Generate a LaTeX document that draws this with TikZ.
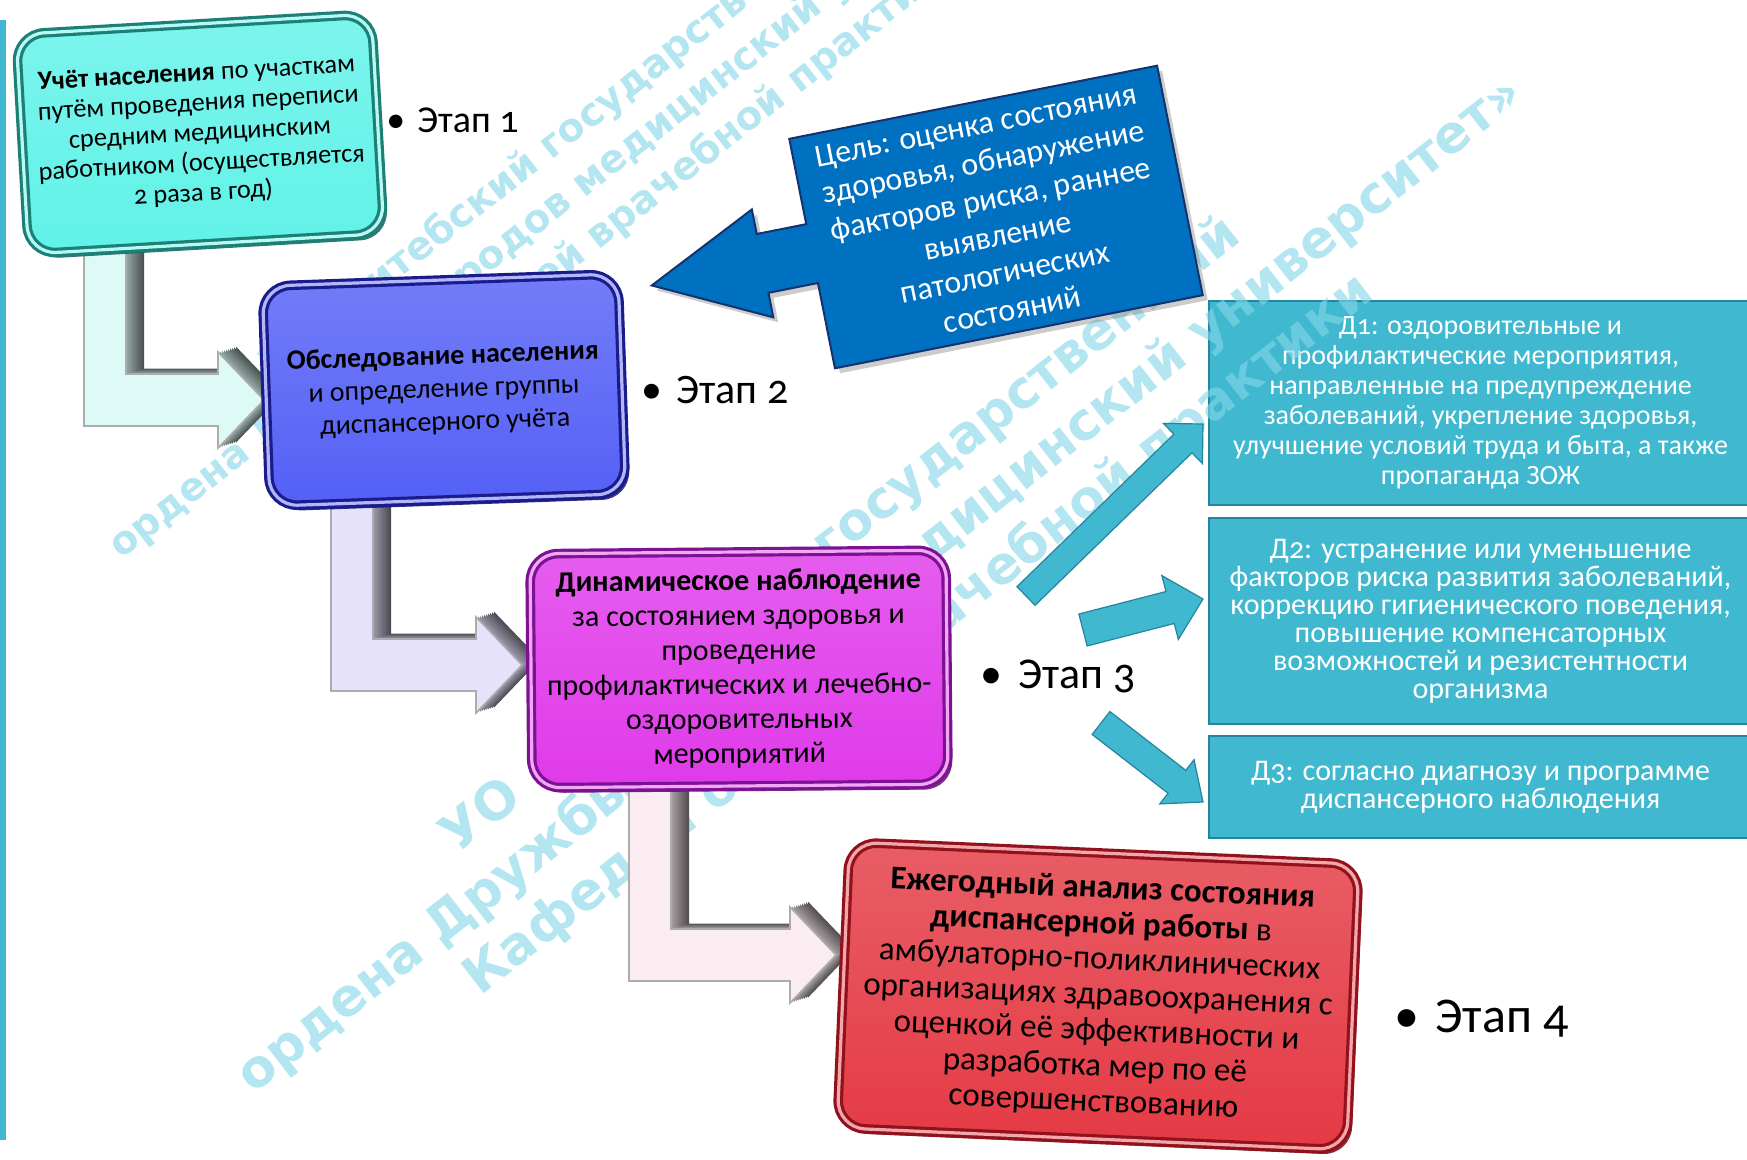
\documentclass[tikz,border=0pt]{standalone}
\usepackage{fontspec}
\setmainfont{Carlito}[Numbers=OldStyle]
\newfontfamily\stampfont{DejaVu Sans}
\usepackage{tikz}
\usetikzlibrary{calc, shadows, positioning}

\definecolor{barcyan}{RGB}{64,184,210}
\definecolor{dfill}{RGB}{64,184,208}
\definecolor{dline}{RGB}{38,132,158}
\definecolor{aquaface}{RGB}{96,242,232}
\definecolor{aquaedge}{RGB}{28,128,118}
\definecolor{blueface}{RGB}{84,96,246}
\definecolor{blueedge}{RGB}{26,28,140}
\definecolor{magface}{RGB}{224,58,234}
\definecolor{magedge}{RGB}{124,18,146}
\definecolor{redface}{RGB}{228,58,68}
\definecolor{rededge}{RGB}{146,18,28}
\definecolor{goalblue}{RGB}{0,112,192}
\definecolor{goaledge}{RGB}{22,50,110}
\definecolor{stampcol}{RGB}{133,214,231}
\definecolor{mintface}{RGB}{222,250,246}
\definecolor{lavface}{RGB}{230,226,252}
\definecolor{pinkface}{RGB}{250,236,240}

\tikzset{
  stagebox/.style 2 args={rounded corners=14pt, draw=#2, line width=1.6pt,
    double=#1!45!white, double distance=1.6pt,
    top color=#1!82!white, bottom color=#1,
    drop shadow={fill=#2!75!black, shadow xshift=2.2pt, shadow yshift=-2.6pt, opacity=0.85},
    align=center, inner sep=0pt, text=black},
  dbox/.style={rectangle, draw=dline, line width=1pt, fill=dfill,
    text=white, align=center, inner sep=0pt},
  etap/.style={anchor=west, inner sep=0pt},
  stamp/.style={text=stampcol, opacity=0.62, align=center, rotate=38,
    font=\stampfont\bfseries\fontsize{26}{31.5}\selectfont},
  darrow/.style={fill=dfill, draw=dline, line width=0.6pt}
}

% bent 3D arrow: x0, ytop, xtip, ytip
\newcommand{\bendpath}[4]{(#1,#2) -- ({#1+42},#2) -- ({#1+42},{#4-26})
  -- ({#3-46},{#4-26}) -- ({#3-46},{#4-48}) -- (#3,#4) -- ({#3-46},{#4+48})
  -- ({#3-46},{#4+26}) -- (#1,{#4+26}) -- cycle}
\newcommand{\bendarrow}[5]{%
  \foreach \k in {9,...,1}{
    \pgfmathtruncatemacro\shd{30+4*\k}
    \fill[black!\shd!#5, shift={({\k*2},{-\k*0.6})}] \bendpath{#1}{#2}{#3}{#4};
  }
  \filldraw[fill=#5, draw=gray!65, line width=0.8pt] \bendpath{#1}{#2}{#3}{#4};
}
% flat block arrow: from, to, half shaft, half head, head length
\newcommand{\blockarrow}[5]{%
  \coordinate (hb) at ($(#2)!#5!(#1)$);
  \draw[darrow] ($(#1)!#3!90:(#2)$) -- ($(hb)!#3!90:(#2)$) -- ($(hb)!#4!90:(#2)$)
    -- (#2) -- ($(hb)!#4!-90:(#2)$) -- ($(hb)!#3!-90:(#2)$) -- ($(#1)!#3!-90:(#2)$) -- cycle;
}

\begin{document}
\begin{tikzpicture}[x=0.5pt, y=-0.5pt]
  \useasboundingbox (0,0) rectangle (1747,1160);
  \clip (0,0) rectangle (1747,1160);

  % полоса слева
  \fill[barcyan] (0,20) rectangle (6,1140);

  % блоки Д1--Д3
  \node[dbox, minimum width=271.5pt, minimum height=102pt,
    font=\fontsize{14}{15}\selectfont] (d1) at (1480.5,403)
    {Д1: оздоровительные и\\ профилактические мероприятия,\\ направленные на предупреждение\\
     заболеваний, укрепление здоровья,\\ улучшение условий труда и быта, а также\\ пропаганда ЗОЖ};
  \node[dbox, minimum width=271.5pt, minimum height=103pt,
    font=\fontsize{15}{14}\selectfont] (d2) at (1480.5,621)
    {Д2: устранение или уменьшение\\ факторов риска развития заболеваний,\\ коррекцию гигиенического поведения,\\
     повышение компенсаторных\\ возможностей и резистентности\\ организма};
  \node[dbox, minimum width=271.5pt, minimum height=51pt,
    font=\fontsize{15}{14}\selectfont] (d3) at (1480.5,787)
    {Д3: согласно диагнозу и программе\\ диспансерного наблюдения};

  % водяной знак
  \node[stamp, font=\stampfont\bfseries\fontsize{19.5}{25}\selectfont] (wm1) at (592,178)
    {УО «Витебский государственный\\ ордена Дружбы народов медицинский университет»\\ Кафедра общей врачебной практики};
  \node[stamp] (wm2) at (880,585)
    {УО «Витебский государственный\\ ордена Дружбы народов медицинский университет»\\ Кафедра общей врачебной практики};

  % изогнутые стрелки между этапами
  \bendarrow{84}{245}{264}{400}{mintface}
  \bendarrow{331}{500}{522}{665}{lavface}
  \bendarrow{629}{780}{836}{955}{pinkface}

  % этапы
  \node[stagebox={aquaface}{aquaedge}, minimum width=178pt, minimum height=110pt,
    rotate=3.3, font=\fontsize{13.2}{15}\selectfont] (b1) at (200,134)
    {\textbf{Учёт населения} по участкам\\ путём проведения переписи\\ средним медицинским\\
     работником (осуществляется\\ 2 раза в год)};
  \node[stagebox={blueface}{blueedge}, minimum width=178pt, minimum height=110pt,
    rotate=2, font=\fontsize{14}{16.5}\selectfont] (b2) at (444,390)
    {\textbf{Обследование населения}\\ и определение группы\\ диспансерного учёта};
  \node[stagebox={magface}{magedge}, minimum width=208pt, minimum height=117pt,
    rotate=0.5, font=\fontsize{15}{17.3}\selectfont] (b3) at (739,669)
    {\textbf{Динамическое наблюдение}\\ за состоянием здоровья и\\ проведение\\
     профилактических и лечебно-\\ оздоровительных\\ мероприятий};
  \node[stagebox={redface}{rededge}, minimum width=255pt, minimum height=143pt,
    rotate=-2.5, font=\fontsize{16.5}{17.8}\selectfont] (b4) at (1098,996)
    {\textbf{Ежегодный анализ состояния}\\ \textbf{диспансерной работы} в\\ амбулаторно-поликлинических\\
     организациях здравоохранения с\\ оценкой её эффективности и\\ разработка мер по её\\ совершенствованию};

  % цель
  \begin{scope}[shift={(996,217)}, rotate=11.25]
    \filldraw[fill=goalblue, draw=goaledge, line width=1pt,
      drop shadow={shadow xshift=2.5pt, shadow yshift=-2.5pt, opacity=0.4}]
      (-187.5,-117) -- (187.5,-117) -- (187.5,117) -- (-187.5,117) -- (-187.5,30)
      -- (-238,30) -- (-238,55) -- (-351,0) -- (-238,-55) -- (-238,-30) -- (-187.5,-30) -- cycle;
    \node[rotate=11.25, text=white, align=center, font=\fontsize{16}{18.8}\selectfont] (goal) at (-2,0)
      {Цель: оценка состояния\\ здоровья, обнаружение\\ факторов риска, раннее\\ выявление\\ патологических\\ состояний};
  \end{scope}

  % стрелки к Д1--Д3
  \coordinate (a1s) at (1026,596);
  \coordinate (a1t) at (1203,424);
  \coordinate (a2s) at (1083,630);
  \coordinate (a2t) at (1203,599);
  \coordinate (a3s) at (1101,723);
  \coordinate (a3t) at (1203,802);
  \blockarrow{a1s}{a1t}{6.5pt}{14pt}{14pt}
  \blockarrow{a2s}{a2t}{8.25pt}{16.5pt}{17pt}
  \blockarrow{a3s}{a3t}{7.25pt}{14pt}{16.5pt}

  % подписи этапов
  \node[etap, font=\fontsize{19}{23}\selectfont] (e1) at (386,120) {\textbullet\hspace{6pt}Этап 1};
  \node[etap, font=\fontsize{21}{25}\selectfont] (e2) at (641,390) {\textbullet\hspace{7pt}Этап 2};
  \node[etap, font=\fontsize{22}{26}\selectfont] (e3) at (980,676) {\textbullet\hspace{8pt}Этап 3};
  \node[etap, font=\fontsize{25}{29}\selectfont] (e4) at (1394,1019) {\textbullet\hspace{8pt}Этап 4};
\end{tikzpicture}
\end{document}
